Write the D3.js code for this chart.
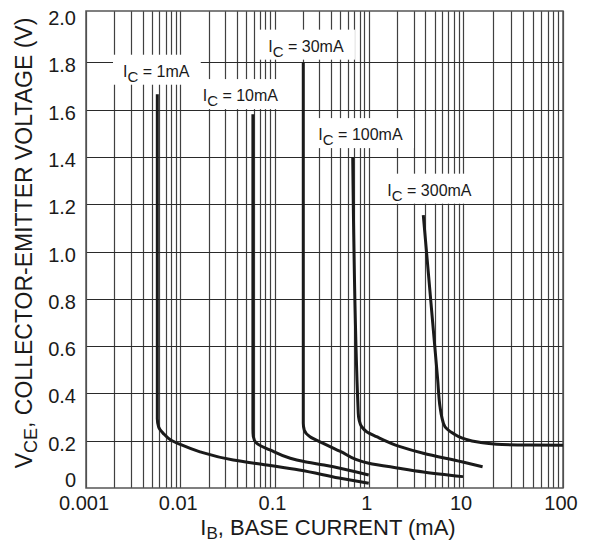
<!DOCTYPE html>
<html><head><meta charset="utf-8">
<script src="https://cdn.jsdelivr.net/npm/d3@7"></script>
<style>
body{margin:0;background:#fff}
svg{display:block}
text{font-family:"Liberation Sans",Arial,Helvetica,sans-serif;fill:#1a1a1a}
</style>
</head><body>
<svg id="chart" width="590" height="543"></svg>
<script>
// ---- data ----
const xTicks = [0.001, 0.01, 0.1, 1, 10, 100];
const xTickLabels = ["0.001", "0.01", "0.1", "1", "10", "100"];
const yTicks = [0, 0.2, 0.4, 0.6, 0.8, 1.0, 1.2, 1.4, 1.6, 1.8, 2.0];
const yTickLabels = ["0", "0.2", "0.4", "0.6", "0.8", "1.0", "1.2", "1.4", "1.6", "1.8", "2.0"];

const seriesNames = ["1mA", "10mA", "30mA", "100mA", "300mA"];
// [I_B (mA), V_CE (V)]
const ic1mA = [[0.00571,1.665],[0.00571,0.293],[0.0059,0.258],[0.0066,0.231],[0.0080,0.202],[0.010,0.184],[0.0162,0.153],[0.0365,0.118],[0.0828,0.097],[0.183,0.076],[0.483,0.042],[1.0,0.020]];
const ic10mA = [[0.059,1.58],[0.059,0.25],[0.0596,0.217],[0.0647,0.189],[0.0895,0.161],[0.147,0.126],[0.2,0.113],[0.335,0.097],[1.0,0.055]];
const ic30mA = [[0.202,1.80],[0.202,0.274],[0.207,0.245],[0.238,0.217],[0.33,0.189],[0.5,0.155],[1.0,0.105],[2.0,0.085],[3.8,0.068],[10,0.048]];
const ic100mA = [[0.676,1.40],[0.774,0.316],[0.79,0.288],[0.842,0.259],[0.95,0.238],[1.21,0.217],[2.15,0.175],[3.79,0.147],[9.68,0.111],[15.7,0.090]];
const ic300mA = [[3.79,1.154],[5.39,0.457],[5.7,0.344],[5.95,0.301],[6.44,0.259],[7.87,0.231],[10.0,0.210],[14.6,0.193],[21.7,0.185],[46.4,0.182],[100,0.181]];
const seriesData = [ic1mA, ic10mA, ic30mA, ic100mA, ic300mA];
// label text start, in data units [I_B, V_CE]
const labelAnchors = [[0.00247,1.739],[0.0173,1.636],[0.0859,1.845],[0.292,1.471],[1.574,1.236]];

// ---- chart ----
const svg = d3.select("#chart");
const W = 590, H = 543;
svg.append("rect").attr("width", W).attr("height", H).attr("fill", "#fff");

const x = d3.scaleLog().domain([0.001, 10, 100]).range([86, 463, 563]);
const y = d3.scaleLinear().domain([0, 2]).range([488, 15]);
const plotTop = y(2) - 4, plotBottom = y(0), plotLeft = x(0.001), plotRight = x(100);

// vertical grid (1..9 per decade)
const vGrid = [];
for (let e = -3; e <= 1; e++) for (let k = 1; k <= 9; k++) vGrid.push(k * Math.pow(10, e));
vGrid.push(100);
svg.append("g").selectAll("line").data(vGrid).join("line")
  .attr("x1", d => Math.round(x(d)) + 0.5).attr("x2", d => Math.round(x(d)) + 0.5)
  .attr("y1", plotTop).attr("y2", plotBottom)
  .attr("stroke", "#404040").attr("stroke-width", 1.2);

// horizontal grid
svg.append("g").selectAll("line").data(yTicks.filter(v => v > 0 && v < 2)).join("line")
  .attr("x1", plotLeft).attr("x2", plotRight)
  .attr("y1", d => Math.round(y(d)) + 0.5).attr("y2", d => Math.round(y(d)) + 0.5)
  .attr("stroke", "#2a2a2a").attr("stroke-width", 1.2);

// frame
svg.append("rect").attr("x", plotLeft).attr("y", plotTop)
  .attr("width", plotRight - plotLeft).attr("height", plotBottom - plotTop)
  .attr("fill", "none").attr("stroke", "#555").attr("stroke-width", 1.5);

// y tick labels
svg.append("g").selectAll("text").data(yTicks).join("text")
  .attr("x", 76).attr("y", d => y(d) + (d === 0 ? -1 : 10))
  .attr("text-anchor", "end").attr("font-size", 20)
  .text((d, i) => yTickLabels[i]);

// x tick labels
svg.append("g").selectAll("text").data(xTicks).join("text")
  .attr("x", d => x(d) - 2).attr("y", 510)
  .attr("text-anchor", "middle").attr("font-size", 20)
  .text((d, i) => xTickLabels[i]);

// axis titles
const xt = svg.append("text").attr("x", 328).attr("y", 535)
  .attr("text-anchor", "middle").attr("font-size", 22);
xt.append("tspan").text("I");
xt.append("tspan").attr("font-size", 17).attr("dy", 4).text("B");
xt.append("tspan").attr("dy", -4).text(", BASE CURRENT (mA)");

const yt = svg.append("text").attr("transform", "translate(31.5,243) rotate(-90)")
  .attr("text-anchor", "middle").attr("font-size", 23);
yt.append("tspan").text("V");
yt.append("tspan").attr("font-size", 18).attr("dy", 5).text("CE");
yt.append("tspan").attr("dy", -5).text(", COLLECTOR-EMITTER VOLTAGE (V)");

// curve labels with white boxes
const lab = svg.append("g");
seriesNames.forEach((name, i) => {
  const [lx, ly] = [x(labelAnchors[i][0]), y(labelAnchors[i][1])];
  const g = lab.append("g");
  const t = g.append("text").attr("x", lx).attr("y", ly).attr("font-size", 16);
  t.append("tspan").text("I");
  t.append("tspan").attr("font-size", 15).attr("dy", 5).text("C");
  t.append("tspan").attr("dy", -5).text(" = " + name);
  const bb = t.node().getBBox();
  g.insert("rect", "text").attr("x", lx - 10).attr("y", ly - 22)
    .attr("width", bb.width + 21).attr("height", 30).attr("fill", "#fff");
});

// curves
const line = d3.line().x(d => x(d[0])).y(d => y(d[1])).curve(d3.curveMonotoneY);
svg.append("g").selectAll("path").data(seriesData).join("path")
  .attr("d", line).attr("fill", "none").attr("stroke", "#1a1a1a")
  .attr("stroke-width", 3).attr("stroke-linejoin", "round").attr("stroke-linecap", "butt");
</script>
</body></html>
